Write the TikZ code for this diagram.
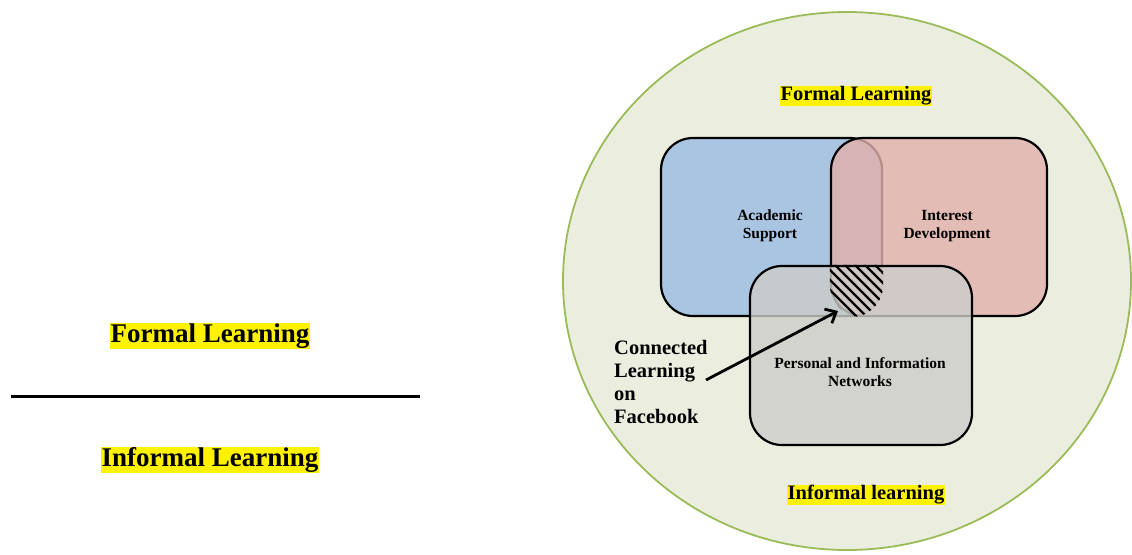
\documentclass[tikz,border=0pt]{standalone}
\usepackage{fontspec}
\setmainfont{Liberation Serif}
\usetikzlibrary{arrows.meta,shapes.geometric}
\definecolor{ringfill}{HTML}{EBEEDF}
\definecolor{ringline}{HTML}{9BBB59}
\definecolor{acablue}{HTML}{A9C5E1}
\definecolor{intpink}{HTML}{E2B0AB}
\definecolor{netgrey}{HTML}{CDCDC9}
\begin{document}
\begin{tikzpicture}[x=1pt,y=-1pt,
  box/.style={rectangle,rounded corners=32pt,draw=black,line width=2.2pt,inner sep=0pt},
  hilite/.style={fill=yellow,inner sep=1pt,font=\bfseries},
  lbl/.style={align=center,font=\bfseries\fontsize{15.5}{17.5}\selectfont}]
  \useasboundingbox (0,0) rectangle (1132,554);
  % left side
  \node[hilite,font=\bfseries\fontsize{27}{32}\selectfont] (formL) at (210,336) {Formal Learning};
  \node[hilite,font=\bfseries\fontsize{27}{32}\selectfont] (informL) at (210,460) {Informal Learning};
  \coordinate (ruleA) at (11,396);
  \coordinate (ruleB) at (420,396);
  \draw[line width=3pt] (ruleA) -- (ruleB);
  % circle
  \node[ellipse,draw=ringline,fill=ringfill,line width=1.8pt,minimum width=568pt,minimum height=538pt,inner sep=0pt] (ring) at (847,281) {};
  \node[hilite,font=\bfseries\fontsize{20.5}{24}\selectfont] (formR) at (856,96) {Formal Learning};
  \node[hilite,font=\bfseries\fontsize{20.5}{24}\selectfont] (informR) at (866,495) {Informal learning};
  % three boxes
  \node[box,fill=acablue,minimum width=221pt,minimum height=178pt] (acad) at (771.5,227) {};
  \node[box,fill=intpink,fill opacity=0.8,minimum width=216pt,minimum height=178pt] (inter) at (939,227) {};
  \node[box,fill=netgrey,fill opacity=0.8,minimum width=222pt,minimum height=179pt] (netw) at (861,355.5) {};
  % hatched overlap
  \begin{scope}
    \clip[rounded corners=32pt] (acad.north west) rectangle (acad.south east);
    \clip[rounded corners=32pt] (inter.north west) rectangle (inter.south east);
    \clip[rounded corners=32pt] (netw.north west) rectangle (netw.south east);
    \foreach \k in {0,...,16}
      \draw[line width=2.2pt] (760+\k*10,230) -- ++(110,110);
  \end{scope}
  \node[lbl] (acadT) at (770,226) {Academic\\Support};
  \node[lbl] (interT) at (947,226) {Interest\\Development};
  \node[lbl] (netwT) at (860,372) {Personal and Information\\Networks};
  % arrow label
  \node[anchor=north west,align=left,inner sep=0pt,font=\bfseries\fontsize{20.5}{23}\selectfont] (fbook) at (614,340) {Connected\\Learning\\on\\Facebook};
  \coordinate (arrS) at (706,380);
  \coordinate (arrE) at (838,311);
  \draw[line width=2.8pt,-{Straight Barb[length=9pt,width=16pt]}] (arrS) -- (arrE);
\end{tikzpicture}
\end{document}
